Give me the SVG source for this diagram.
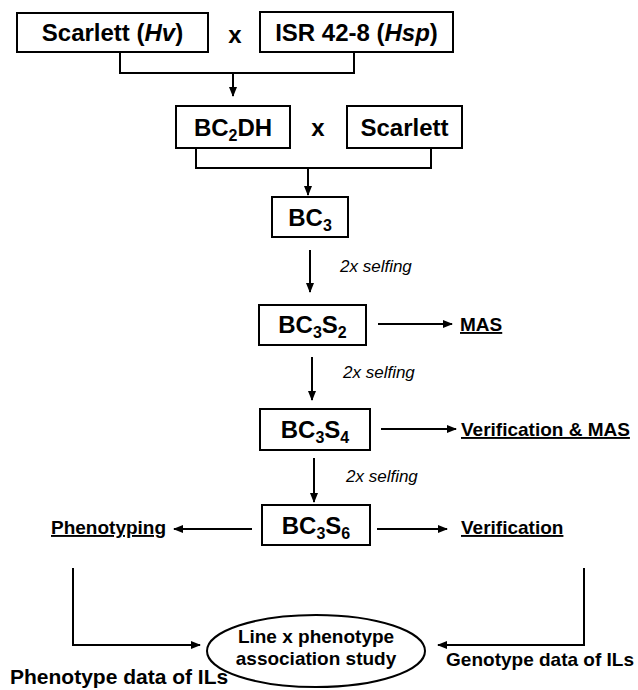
<svg xmlns="http://www.w3.org/2000/svg" width="638" height="690" viewBox="0 0 638 690">
<defs>
<style>
.box{fill:#fff;stroke:#000;stroke-width:2}
.ln{fill:none;stroke:#000;stroke-width:2}
.ar{fill:none;stroke:#000;stroke-width:2;marker-end:url(#ah)}
.t{font-family:"Liberation Sans",Arial,sans-serif;font-weight:bold;font-size:24px;fill:#000}
.sub{font-size:16px}
.lab{font-family:"Liberation Sans",Arial,sans-serif;font-weight:bold;font-size:19px;fill:#000;text-decoration:underline}
.self{font-family:"Liberation Sans",Arial,sans-serif;font-style:italic;font-size:17px;fill:#000}
.big{font-family:"Liberation Sans",Arial,sans-serif;font-weight:bold;font-size:21px;fill:#000}
.el{font-family:"Liberation Sans",Arial,sans-serif;font-weight:bold;font-size:19px;fill:#000}
</style>
<marker id="ah" markerUnits="userSpaceOnUse" markerWidth="10" markerHeight="10" viewBox="0 0 10 10" refX="9" refY="5" orient="auto">
<path d="M0,1 L10,5 L0,9 z" fill="#000"/>
</marker>
</defs>
<rect width="638" height="690" fill="#fff"/>

<g id="connectors">
<polyline class="ln" points="120,52 120,73 354,73 354,52"/>
<line class="ar" x1="233" y1="73" x2="233" y2="96"/>
<polyline class="ln" points="196,148 196,168 431,168 431,148"/>
<line class="ar" x1="308" y1="168" x2="308" y2="195"/>
<line class="ar" x1="310" y1="250" x2="310" y2="292"/>
<line class="ar" x1="312" y1="357" x2="312" y2="400"/>
<line class="ar" x1="314" y1="458" x2="314" y2="502"/>
<line class="ar" x1="378" y1="324" x2="452" y2="324"/>
<line class="ar" x1="381" y1="429" x2="456" y2="429"/>
<line class="ar" x1="377" y1="529" x2="447" y2="529"/>
<line class="ar" x1="252" y1="529" x2="174" y2="529"/>
<polyline class="ar" points="73,568 73,645 200,645"/>
<polyline class="ar" points="584,568 584,645 438,645"/>
</g>

<g id="scarlett-hv">
<rect class="box" x="17" y="13" width="191" height="39"/>
<text class="t" x="112.5" y="41" text-anchor="middle">Scarlett (<tspan font-style="italic">Hv</tspan>)</text>
</g>
<text class="t" x="235" y="43" text-anchor="middle">x</text>
<g id="isr">
<rect class="box" x="260" y="12" width="193" height="40"/>
<text class="t" x="356.5" y="41" text-anchor="middle">ISR 42-8 (<tspan font-style="italic">Hsp</tspan>)</text>
</g>

<g id="bc2dh">
<rect class="box" x="176" y="106" width="114" height="42"/>
<text class="t" x="233" y="136" text-anchor="middle">BC<tspan class="sub" dy="5">2</tspan><tspan dy="-5">DH</tspan></text>
</g>
<text class="t" x="318" y="136" text-anchor="middle">x</text>
<g id="scarlett">
<rect class="box" x="347" y="106" width="115" height="42"/>
<text class="t" x="404.5" y="136" text-anchor="middle">Scarlett</text>
</g>

<g id="bc3">
<rect class="box" x="272" y="197" width="76" height="40"/>
<text class="t" x="310" y="226" text-anchor="middle">BC<tspan class="sub" dy="5">3</tspan></text>
</g>
<text class="self" x="340" y="272">2x selfing</text>

<g id="bc3s2">
<rect class="box" x="259" y="305" width="107" height="40"/>
<text class="t" x="312.5" y="333" text-anchor="middle">BC<tspan class="sub" dy="5">3</tspan><tspan dy="-5">S</tspan><tspan class="sub" dy="5">2</tspan></text>
</g>
<text class="lab" x="460" y="331">MAS</text>
<text class="self" x="343" y="378">2x selfing</text>

<g id="bc3s4">
<rect class="box" x="260" y="409" width="110" height="41"/>
<text class="t" x="315" y="438" text-anchor="middle">BC<tspan class="sub" dy="5">3</tspan><tspan dy="-5">S</tspan><tspan class="sub" dy="5">4</tspan></text>
</g>
<text class="lab" x="461" y="436">Verification &amp; MAS</text>
<text class="self" x="346" y="482">2x selfing</text>

<g id="bc3s6">
<rect class="box" x="262" y="505" width="108" height="40"/>
<text class="t" x="316" y="534" text-anchor="middle">BC<tspan class="sub" dy="5">3</tspan><tspan dy="-5">S</tspan><tspan class="sub" dy="5">6</tspan></text>
</g>
<text class="lab" x="51" y="534">Phenotyping</text>
<text class="lab" x="461" y="534">Verification</text>

<g id="association">
<ellipse cx="316" cy="651" rx="109" ry="36" fill="#fff" stroke="#000" stroke-width="2"/>
<text class="el" x="316" y="643" text-anchor="middle">Line x phenotype</text>
<text class="el" x="316" y="665" text-anchor="middle">association study</text>
</g>
<text class="big" x="10" y="684">Phenotype data of ILs</text>
<text class="big" x="634" y="666" text-anchor="end" style="font-size:19px">Genotype data of ILs</text>
</svg>
